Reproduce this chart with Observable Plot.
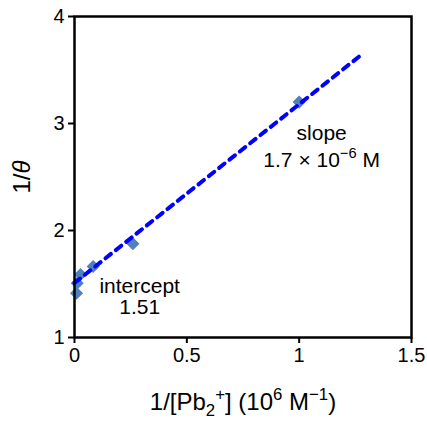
<!DOCTYPE html>
<html>
<head>
<meta charset="utf-8">
<script src="https://cdn.jsdelivr.net/npm/d3@7"></script>
<script src="https://cdn.jsdelivr.net/npm/@observablehq/plot@0.6"></script>
<style>
  html, body { margin: 0; padding: 0; background: white; }
  #chart { width: 427px; height: 421px; }
</style>
</head>
<body>
<div id="chart"></div>
<script>
// ---- data ----
const invPb = [0.009, 0.012, 0.027, 0.083, 0.26, 1.0];      // 1/[Pb2+] (10^6 M^-1)
const invTheta = [1.414, 1.507, 1.589, 1.664, 1.876, 3.20];  // 1/theta
const fitIntercept = 1.51;
const fitSlope = 1.67;
const fitXRange = [0, 1.285];
const xTicks = [0, 0.5, 1, 1.5];
const xTickLabels = ["0", "0.5", "1", "1.5"];
const yTicks = [1, 2, 3, 4];
const yTickLabels = ["1", "2", "3", "4"];
const noteText = ["intercept", "1.51", "slope", "1.7 × 10−6 M"];
const noteX = [0.29, 0.29, 1.10, 1.10];
const noteY = [1.477, 1.28, 2.91, 2.66];

const points = invPb.map((x, i) => ({x, y: invTheta[i]}));
const fit = fitXRange.map(x => ({x, y: fitIntercept + fitSlope * x}));
const notes = noteText.map((t, i) => ({t, x: noteX[i], y: noteY[i]}));

const chart = Plot.plot({
  width: 427,
  height: 421,
  marginLeft: 74,
  marginRight: 16,
  marginTop: 16,
  marginBottom: 84,
  style: {fontFamily: "'Liberation Sans', Arial, sans-serif", fontSize: "20px", color: "black", background: "white"},
  x: {domain: [0, 1.5]},
  y: {domain: [1, 4]},
  marks: [
    Plot.axisX({ticks: xTicks, tickFormat: (d, i) => xTickLabels[i], tickSize: 6, tickPadding: 4, strokeWidth: 2,
      fontSize: 20, label: "1/[Pb2+] (106 M−1)", labelAnchor: "center", labelArrow: "none", labelOffset: 72}),
    Plot.axisY({ticks: yTicks, tickFormat: (d, i) => yTickLabels[i], tickSize: 6, tickPadding: 4, strokeWidth: 2,
      fontSize: 20, label: "1/θ", labelAnchor: "center", labelArrow: "none", labelOffset: 62}),
    Plot.dot(points, {x: "x", y: "y", symbol: "diamond2", r: 5.9, fill: "#4f81bd", stroke: "none"}),
    Plot.line(fit, {x: "x", y: "y", stroke: "#0000ff", strokeWidth: 4, strokeDasharray: "7,6.2"}),
    Plot.text(notes, {x: "x", y: "y", text: "t", fontSize: 21, fill: "black"}),
    Plot.frame({stroke: "black", strokeWidth: 2.5})
  ]
});
document.getElementById("chart").appendChild(chart);

// rich text (sub/superscripts, italics) via tspans
const NS = "http://www.w3.org/2000/svg";
function rich(el, parts, base) {
  while (el.firstChild) el.removeChild(el.firstChild);
  let cur = 0;
  for (const [s, k] of parts) {
    const target = k === "sub" ? base * 0.28 : k === "sup" ? -base * 0.4 : 0;
    const t = document.createElementNS(NS, "tspan");
    t.setAttribute("dy", target - cur);
    cur = target;
    if (k === "sub" || k === "sup") t.setAttribute("font-size", base * 0.7);
    if (k === "it") t.setAttribute("font-style", "italic");
    t.textContent = s;
    el.appendChild(t);
  }
}
const svg = d3.select(chart);
svg.selectAll("text").each(function() {
  const txt = this.textContent;
  if (txt === "1/[Pb2+] (106 M−1)") {
    this.setAttribute("font-size", 24);
    rich(this, [["1/[Pb", ""], ["2", "sub"], ["+", "sup"], ["] (10", ""], ["6", "sup"], [" M", ""], ["−1", "sup"], [")", ""]], 24);
  } else if (txt === "1/θ") {
    this.setAttribute("font-size", 24);
    rich(this, [["1/", ""], ["θ", "it"]], 24);
  } else if (txt === "1.7 × 10−6 M") {
    rich(this, [["1.7 × 10", ""], ["−6", "sup"], [" M", ""]], 21);
  }
});
</script>
</body>
</html>
